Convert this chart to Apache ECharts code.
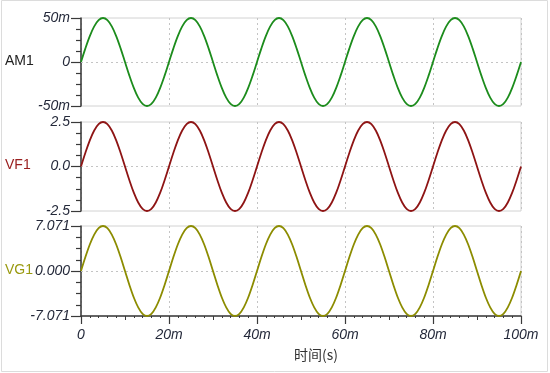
<!DOCTYPE html>
<html>
<head>
<meta charset="utf-8">
<script src="https://cdn.jsdelivr.net/npm/echarts@6/dist/echarts.min.js"></script>
<style>html,body{margin:0;padding:0;background:#fff;}#c{width:550px;height:373px;}</style>
</head>
<body>
<div id="c"></div>
<script>
// time in ms
var timeMs = [0,1,2,3,4,5,6,7,8,9,10,11,12,13,14,15,16,17,18,19,
20,21,22,23,24,25,26,27,28,29,30,31,32,33,34,35,36,37,38,39,
40,41,42,43,44,45,46,47,48,49,50,51,52,53,54,55,56,57,58,59,
60,61,62,63,64,65,66,67,68,69,70,71,72,73,74,75,76,77,78,79,
80,81,82,83,84,85,86,87,88,89,90,91,92,93,94,95,96,97,98,99,100];
// AM1 in mA
var am1 = [0,15.5,29.4,40.5,47.6,50,47.6,40.5,29.4,15.5,0,-15.5,-29.4,-40.5,-47.6,-50,-47.6,-40.5,-29.4,-15.5,
0,15.5,29.4,40.5,47.6,50,47.6,40.5,29.4,15.5,0,-15.5,-29.4,-40.5,-47.6,-50,-47.6,-40.5,-29.4,-15.5,
0,15.5,29.4,40.5,47.6,50,47.6,40.5,29.4,15.5,0,-15.5,-29.4,-40.5,-47.6,-50,-47.6,-40.5,-29.4,-15.5,
0,15.5,29.4,40.5,47.6,50,47.6,40.5,29.4,15.5,0,-15.5,-29.4,-40.5,-47.6,-50,-47.6,-40.5,-29.4,-15.5,
0,15.5,29.4,40.5,47.6,50,47.6,40.5,29.4,15.5,0,-15.5,-29.4,-40.5,-47.6,-50,-47.6,-40.5,-29.4,-15.5,0];
// VF1 in V
var vf1 = [0,0.77,1.47,2.02,2.38,2.5,2.38,2.02,1.47,0.77,0,-0.77,-1.47,-2.02,-2.38,-2.5,-2.38,-2.02,-1.47,-0.77,
0,0.77,1.47,2.02,2.38,2.5,2.38,2.02,1.47,0.77,0,-0.77,-1.47,-2.02,-2.38,-2.5,-2.38,-2.02,-1.47,-0.77,
0,0.77,1.47,2.02,2.38,2.5,2.38,2.02,1.47,0.77,0,-0.77,-1.47,-2.02,-2.38,-2.5,-2.38,-2.02,-1.47,-0.77,
0,0.77,1.47,2.02,2.38,2.5,2.38,2.02,1.47,0.77,0,-0.77,-1.47,-2.02,-2.38,-2.5,-2.38,-2.02,-1.47,-0.77,
0,0.77,1.47,2.02,2.38,2.5,2.38,2.02,1.47,0.77,0,-0.77,-1.47,-2.02,-2.38,-2.5,-2.38,-2.02,-1.47,-0.77,0];
// VG1 in V
var vg1 = [0,2.19,4.16,5.72,6.73,7.07,6.73,5.72,4.16,2.19,0,-2.19,-4.16,-5.72,-6.73,-7.07,-6.73,-5.72,-4.16,-2.19,
0,2.19,4.16,5.72,6.73,7.07,6.73,5.72,4.16,2.19,0,-2.19,-4.16,-5.72,-6.73,-7.07,-6.73,-5.72,-4.16,-2.19,
0,2.19,4.16,5.72,6.73,7.07,6.73,5.72,4.16,2.19,0,-2.19,-4.16,-5.72,-6.73,-7.07,-6.73,-5.72,-4.16,-2.19,
0,2.19,4.16,5.72,6.73,7.07,6.73,5.72,4.16,2.19,0,-2.19,-4.16,-5.72,-6.73,-7.07,-6.73,-5.72,-4.16,-2.19,
0,2.19,4.16,5.72,6.73,7.07,6.73,5.72,4.16,2.19,0,-2.19,-4.16,-5.72,-6.73,-7.07,-6.73,-5.72,-4.16,-2.19,0];
var seriesNames = ['AM1','VF1','VG1'];
var seriesColors = ['#1c8c1c','#8e1414','#8c8c00'];
var nameColors = ['#222222','#9a2020','#9a9a10'];
var xTickLabels = ['0','20m','40m','60m','80m','100m'];
var xTitle = '时间(s)';

function pairs(v){ return timeMs.map(function(t,i){ return [t, v[i]]; }); }

var labelFont = {fontFamily:'Liberation Sans, Arial, sans-serif', fontStyle:'italic', fontSize:14, color:'#24293a'};
var gridTops = [18,122,226], gridHeights = [88,89,90];
var grids = gridTops.map(function(t,i){
  return {left:81, width:440, top:t, height:gridHeights[i], show:true, borderColor:'#d2d2d2', borderWidth:1, containLabel:false};
});
var dotted = {show:true, lineStyle:{color:'#c4c4c4', type:[2,3], width:1}};

var xAxes = [];
for (var g=0; g<3; g++){
  xAxes.push({type:'value', gridIndex:g, min:0, max:100, interval:20,
    axisLine:{show:g===2, onZero:false, lineStyle:{color:'#3a3a3a', width:1.5}},
    axisTick:{show:g===2, length:8, lineStyle:{color:'#3a3a3a', width:1.2}},
    axisLabel:{show:g===2, margin:12, fontFamily:labelFont.fontFamily, fontStyle:'italic', fontSize:14, color:'#24293a',
      formatter:function(v){ return xTickLabels[Math.round(v/20)]; }},
    splitLine:{show:true, lineStyle:{color:'#c4c4c4', type:[2,3], width:1}}
  });
}
// secondary axis for medium/minor ticks
xAxes.push({type:'value', gridIndex:2, min:0, max:100, interval:10, position:'bottom', offset:0,
  axisLine:{show:false, onZero:false}, axisLabel:{show:false}, splitLine:{show:false},
  axisTick:{show:true, length:4, lineStyle:{color:'#3a3a3a', width:1}},
  minorTick:{show:true, splitNumber:5, length:2, lineStyle:{color:'#3a3a3a', width:1}}
});

var yMax = [50, 2.5, 7.071];
var yFmt = [
  function(v){ return v===0 ? '0' : Math.round(v)+'m'; },
  function(v){ return v.toFixed(1); },
  function(v){ return v.toFixed(3); }
];
var yAxes = yMax.map(function(m,i){
  return {type:'value', gridIndex:i, min:-m, max:m, interval:m,
    axisLine:{show:true, lineStyle:{color:'#3a3a3a', width:1.5}},
    axisTick:{show:true, length:10, lineStyle:{color:'#3a3a3a', width:1.2}},
    minorTick:{show:true, splitNumber:4, length:5, lineStyle:{color:'#3a3a3a', width:1.2}},
    axisLabel:{margin:11, fontFamily:labelFont.fontFamily, fontStyle:'italic', fontSize:14, color:'#24293a',
      formatter:yFmt[i]},
    splitLine:{show:true, lineStyle:{color:'#c4c4c4', type:[2,3], width:1}}
  };
});
// hide top/bottom split lines by only showing zero line: use interval splitLine filtering
yAxes.forEach(function(a){ a.splitLine.show = false; });

var dataSets = [am1, vf1, vg1];
var series = dataSets.map(function(d,i){
  return {type:'line', xAxisIndex:i, yAxisIndex:i, data:pairs(d), smooth:0.35, showSymbol:false,
    lineStyle:{color:seriesColors[i], width:1.8}, itemStyle:{color:seriesColors[i]}, animation:false, z:5,
    markLine:{silent:true, symbol:'none', label:{show:false}, animation:false,
      lineStyle:{color:'#c4c4c4', type:[2,3], width:1}, data:[{yAxis:0}]}
  };
});

var graphics = [
  {type:'rect', shape:{x:1.5, y:0.5, width:546, height:371}, style:{fill:'none', stroke:'#dcdcdc', lineWidth:1}, z:-1}
];
seriesNames.forEach(function(n,i){
  graphics.push({type:'text', left:5, top:gridTops[i]+gridHeights[i]/2-8,
    style:{text:n, fill:nameColors[i], font:'14px "Liberation Sans", Arial, sans-serif'}});
});
graphics.push({type:'text', left:294, top:348, style:{text:xTitle, fill:'#333', font:'14px "Noto Sans CJK SC", "Liberation Sans", sans-serif'}});

var chart = echarts.init(document.getElementById('c'), null, {renderer:'canvas'});
chart.setOption({
  animation:false,
  grid:grids, xAxis:xAxes, yAxis:yAxes, series:series, graphic:graphics
});
</script>
</body>
</html>
